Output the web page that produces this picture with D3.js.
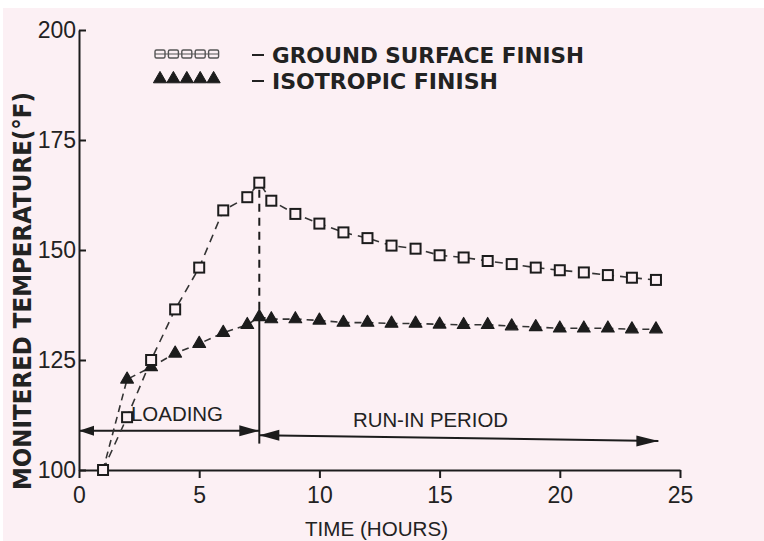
<!DOCTYPE html>
<html>
<head>
<meta charset="utf-8">
<script src="https://cdn.jsdelivr.net/npm/d3@7"></script>
<style>
  body { margin: 0; background: #ffffff; }
  svg { display: block; }
</style>
</head>
<body>
<div id="chart"></div>
<script>
// time in hours, temperature in deg F
var groundT = [1, 2, 3, 4, 5, 6, 7, 7.5, 8, 9, 10, 11, 12, 13, 14, 15, 16, 17, 18, 19, 20, 21, 22, 23, 24];
var groundV = [100, 112, 125, 136.5, 146, 159, 162, 165.3, 161.2, 158.2, 156, 154, 152.7, 151, 150.3, 148.8, 148.3, 147.5, 146.8, 146, 145.4, 144.9, 144.3, 143.7, 143.2];

var isoT = [1, 2, 3, 4, 5, 6, 7, 7.5, 8, 9, 10, 11, 12, 13, 14, 15, 16, 17, 18, 19, 20, 21, 22, 23, 24];
var isoV = [100, 120.6, 123.4, 126.5, 128.7, 131.2, 133, 134.8, 134.3, 134.3, 134, 133.5, 133.5, 133.3, 133.3, 133.1, 133, 133, 132.7, 132.5, 132.2, 132.2, 132.2, 132, 132];

var xTicks = [0, 5, 10, 15, 20, 25];
var yTicks = [100, 125, 150, 175, 200];

var legendNames = ["GROUND SURFACE FINISH", "ISOTROPIC FINISH"];

// end of loading / start of run-in
var splitT = 7.5;
var loadingArrow = [[0, 108.9], [splitT, 108.9]];
var runInArrow = [[splitT, 107.9], [24.1, 106.6]];
var splitBottom = 106;

var width = 764, height = 541;
var ink = "#1c1c1c";

var svg = d3.select("#chart")
    .append("svg")
    .attr("width", width)
    .attr("height", height);

svg.append("rect")
    .attr("x", 3).attr("y", 8)
    .attr("width", width - 3).attr("height", height - 8)
    .attr("fill", "#fcf0f4");

var x = d3.scaleLinear().domain([0, 25]).range([79, 680]);
var y = d3.scaleLinear().domain([100, 200]).range([470, 30]);

var ground = groundT.map(function(t, i){ return [t, groundV[i]]; });
var iso = isoT.map(function(t, i){ return [t, isoV[i]]; });

// axes
var xAxis = svg.append("g")
    .attr("transform", "translate(0," + y(100) + ")")
    .call(d3.axisBottom(x).tickValues(xTicks).tickSize(8).tickSizeOuter(0).tickPadding(9).tickFormat(d3.format("d")));

var yAxis = svg.append("g")
    .attr("transform", "translate(" + x(0) + ",0)")
    .call(d3.axisLeft(y).tickValues(yTicks).tickSize(-7).tickSizeOuter(0).tickPadding(3).tickFormat(d3.format("d")));

[xAxis, yAxis].forEach(function(ax){
    ax.select(".domain").attr("stroke", ink).attr("stroke-width", 2);
    ax.selectAll(".tick line").attr("stroke", ink).attr("stroke-width", 2);
    ax.selectAll(".tick text")
        .attr("fill", "#222")
        .attr("font-family", "'Liberation Sans', Arial, sans-serif")
        .attr("font-size", 23);
});

// axis titles
svg.append("text")
    .attr("transform", "translate(31," + 291 + ") rotate(-90)")
    .attr("text-anchor", "middle")
    .attr("font-family", "'DejaVu Sans', sans-serif")
    .attr("font-weight", "bold")
    .attr("font-size", 24)
    .attr("textLength", 398)
    .attr("lengthAdjust", "spacingAndGlyphs")
    .attr("fill", "#222")
    .text("MONITERED TEMPERATURE(°F)");

svg.append("text")
    .attr("x", 305).attr("y", 536)
    .attr("font-family", "'Liberation Sans', Arial, sans-serif")
    .attr("font-size", 21)
    .attr("textLength", 143)
    .attr("lengthAdjust", "spacingAndGlyphs")
    .attr("fill", "#222")
    .text("TIME (HOURS)");

// divider between loading and run-in
svg.append("line")
    .attr("x1", x(splitT)).attr("x2", x(splitT))
    .attr("y1", y(groundV[groundT.indexOf(splitT)]) + 7)
    .attr("y2", y(isoV[isoT.indexOf(splitT)]))
    .attr("stroke", ink).attr("stroke-width", 2)
    .attr("stroke-dasharray", "8,6");

svg.append("line")
    .attr("x1", x(splitT)).attr("x2", x(splitT))
    .attr("y1", y(isoV[isoT.indexOf(splitT)]))
    .attr("y2", y(splitBottom))
    .attr("stroke", ink).attr("stroke-width", 2);

// arrows
function arrowHead(tip, dir, len, half){
    var p = [tip, [tip[0] - dir * len, tip[1] - half], [tip[0] - dir * len, tip[1] + half]];
    svg.append("path")
        .attr("d", "M" + p.join("L") + "Z")
        .attr("fill", ink);
}

var la = loadingArrow.map(function(d){ return [x(d[0]), y(d[1])]; });
var ra = runInArrow.map(function(d){ return [x(d[0]), y(d[1])]; });

svg.append("line")
    .attr("x1", la[0][0]).attr("y1", la[0][1])
    .attr("x2", la[1][0]).attr("y2", la[1][1])
    .attr("stroke", ink).attr("stroke-width", 2);
svg.append("line")
    .attr("x1", ra[0][0]).attr("y1", ra[0][1])
    .attr("x2", ra[1][0]).attr("y2", ra[1][1])
    .attr("stroke", ink).attr("stroke-width", 2);

arrowHead(la[0], -1, 15, 5);
arrowHead(la[1], 1, 20, 5.5);
arrowHead(ra[0], -1, 20, 5.5);
arrowHead(ra[1], 1, 22, 5.5);

svg.append("text")
    .attr("x", 131).attr("y", 421)
    .attr("font-family", "'Liberation Sans', Arial, sans-serif")
    .attr("font-size", 21)
    .attr("textLength", 92)
    .attr("lengthAdjust", "spacingAndGlyphs")
    .attr("fill", "#222")
    .text("LOADING");

svg.append("text")
    .attr("x", 353).attr("y", 427)
    .attr("font-family", "'Liberation Sans', Arial, sans-serif")
    .attr("font-size", 21)
    .attr("textLength", 155)
    .attr("lengthAdjust", "spacingAndGlyphs")
    .attr("fill", "#222")
    .text("RUN-IN PERIOD");

// series lines
var line = d3.line()
    .x(function(d){ return x(d[0]); })
    .y(function(d){ return y(d[1]); });

svg.append("path")
    .datum(iso)
    .attr("d", line)
    .attr("fill", "none")
    .attr("stroke", "#333")
    .attr("stroke-width", 1.6)
    .attr("stroke-dasharray", "7,5");

svg.append("path")
    .datum(ground)
    .attr("d", line)
    .attr("fill", "none")
    .attr("stroke", "#333")
    .attr("stroke-width", 1.6)
    .attr("stroke-dasharray", "8,6");

// markers - first iso point is the shared start, drawn as a square
var tri = d3.symbol().type(d3.symbolTriangle).size(70);

svg.selectAll(".tri")
    .data(iso.slice(1))
    .enter()
    .append("path")
    .attr("class", "tri")
    .attr("d", tri)
    .attr("transform", function(d){ return "translate(" + x(d[0]) + "," + y(d[1]) + ")"; })
    .attr("fill", ink)
    .attr("stroke", ink)
    .attr("stroke-width", 1.2)
    .attr("stroke-linejoin", "round");

svg.selectAll(".sq")
    .data(ground)
    .enter()
    .append("rect")
    .attr("class", "sq")
    .attr("x", function(d){ return x(d[0]) - 5; })
    .attr("y", function(d){ return y(d[1]) - 5; })
    .attr("width", 10).attr("height", 10)
    .attr("fill", "#fcf0f4")
    .attr("stroke", ink)
    .attr("stroke-width", 2);

// legend
var leg = svg.append("g");
var legX = d3.range(5).map(function(i){ return 160 + i * 13.4; });

leg.append("line")
    .attr("x1", legX[0] - 5).attr("x2", legX[4] + 5)
    .attr("y1", 54).attr("y2", 54)
    .attr("stroke", "#555").attr("stroke-width", 1.2);
leg.selectAll(".lsq")
    .data(legX)
    .enter()
    .append("rect")
    .attr("x", function(d){ return d - 5; })
    .attr("y", 50)
    .attr("width", 10).attr("height", 8)
    .attr("rx", 1.5)
    .attr("fill", "none")
    .attr("stroke", "#555")
    .attr("stroke-width", 1.4);

leg.selectAll(".ltri")
    .data(legX)
    .enter()
    .append("path")
    .attr("d", d3.symbol().type(d3.symbolTriangle).size(75))
    .attr("transform", function(d){ return "translate(" + d + ",79)"; })
    .attr("fill", ink)
    .attr("stroke", ink)
    .attr("stroke-linejoin", "round");

var legY = [63, 89];
var legLen = [312, 226];
legendNames.forEach(function(name, i){
    leg.append("line")
        .attr("x1", 252).attr("x2", 264)
        .attr("y1", legY[i] - 8).attr("y2", legY[i] - 8)
        .attr("stroke", "#222").attr("stroke-width", 2);
    leg.append("text")
        .attr("x", 272).attr("y", legY[i])
        .attr("font-family", "'DejaVu Sans', sans-serif")
        .attr("font-weight", "bold")
        .attr("font-size", 21)
        .attr("textLength", legLen[i])
        .attr("lengthAdjust", "spacingAndGlyphs")
        .attr("fill", "#222")
        .text(name);
});
</script>
</body>
</html>
